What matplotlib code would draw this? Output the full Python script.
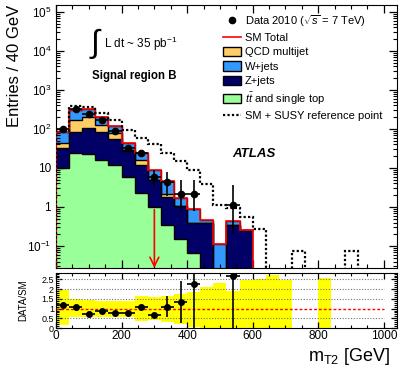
import numpy as np
import matplotlib
matplotlib.use("Agg")
import matplotlib.pyplot as plt
from matplotlib.lines import Line2D
from matplotlib.patches import Patch
from matplotlib.ticker import FixedLocator, FixedFormatter, MultipleLocator, LogLocator, NullFormatter

plt.rcParams['font.family'] = ['Liberation Sans', 'DejaVu Sans']
plt.rcParams['mathtext.fontset'] = 'custom'
plt.rcParams['mathtext.rm'] = 'Liberation Sans'
plt.rcParams['mathtext.it'] = 'Liberation Sans:italic'
plt.rcParams['mathtext.bf'] = 'Liberation Sans:bold'

# binning: 40 GeV bins
edges = np.arange(0, 1041, 40)
n_sm = 15  # bins with SM prediction (0-600 GeV)

# background components (stacked bottom -> top), bins 0..14
ttbar = [9.8, 23.8, 22.4, 16.0, 11.9, 6.0, 2.25, 1.02, 0.345, 0.155, 0.068, 0, 0, 0, 0]
zjets = [22.2, 61.2, 81.6, 66.0, 42.1, 21.0, 9.65, 3.98, 1.455, 0.895, 0.312, 0.38, 0, 0.345, 0.257]
qcd = [11, 85, 102, 44, 24, 2, 4.1, 0, 0.3, 0, 0, 0, 0, 0, 0]
wjets = [42, 137, 119, 74, 41, 15, 7.8, 3.9, 2.6, 0.7, 0.52, 0.08, 0.11, 0.105, 0]

# SM + SUSY reference point, all 26 bins
susy = [88, 380, 375, 250, 170, 92, 60, 40, 24.5, 15, 9, 3.8, 1.12, 0.92, 0.56, 0.28,
        0, 0, 0.076, 0, 0, 0, 0.076, 0, 0, 0]

# data, bins 0..13
data = [100, 325, 238, 170, 88, 33, 24, 5.8, 4.3, 2.2, 2.2, 0, 0, 1.1]
data_lo = [10, 18, 15, 13, 9.4, 5.7, 4.9, 2.5, 2.4, 1.4, 1.4, 0, 0, 0.9]
data_hi = [10, 18, 15, 13, 9.4, 5.7, 4.9, 3.1, 3.4, 2.7, 2.7, 0, 0, 2.6]

# ratio panel
ratio = [1.2, 1.08, 0.72, 0.86, 0.76, 0.77, 1.1, 0.65, 1.1, 1.32, 2.27, np.nan, np.nan, 2.65]
ratio_lo = [0.1, 0.07, 0.05, 0.07, 0.08, 0.1, 0.1, 0.1, 0.52, 1.07, 2.27, np.nan, np.nan, 2.65]
ratio_hi = [0.1, 0.07, 0.05, 0.07, 0.08, 0.1, 0.1, 0.1, 0.53, 1.1, 2.5, np.nan, np.nan, 2.0]
band_lo = [0.15, 0.58, 0.55, 0.55, 0.55, 0.55, 0.35, 0.4, 0.3, 0.2, 0.05, 0, 0, 0, 0,
           0, 0, 0, np.nan, np.nan, 0]
band_hi = [1.96, 1.5, 1.42, 1.4, 1.4, 1.4, 1.63, 1.6, 1.65, 1.73, 1.85, 2.1, 2.3, 1.9, 2.49,
           2.5, 2.73, 2.49, np.nan, np.nan, 2.55]

arrow_x, arrow_top = 300, 0.85

ytick_vals = [1e-1, 1, 10, 1e2, 1e3, 1e4, 1e5]
ytick_labels = ['$10^{-1}$', '1', '10', '$10^{2}$', '$10^{3}$', '$10^{4}$', '$10^{5}$']

c_green = '#99ff99'
c_navy = '#000066'
c_blue = '#3399ff'
c_orange = '#ffcc66'

floor = 1e-4
ymin, ymax = 0.0273, 1.5e5

fig = plt.figure(figsize=(4.03, 3.73), dpi=100)
ax = fig.add_axes([0.139, 0.2815, 0.846, 0.705])
axr = fig.add_axes([0.139, 0.1206, 0.846, 0.1475])

# stacked histogram
sm_edges = edges[:n_sm + 1]
layers = [(ttbar, c_green), (zjets, c_navy), (qcd, c_orange), (wjets, c_blue)]
bottom = np.zeros(n_sm)
for vals, col in layers:
    top = bottom + np.array(vals)
    ax.stairs(np.maximum(top, floor), sm_edges, baseline=np.maximum(bottom, floor),
              fill=True, color=col, lw=0, zorder=1)
    ax.stairs(np.maximum(top, floor), sm_edges, baseline=None, color='black', lw=1.0, zorder=2)
    bottom = top
ax.stairs(np.maximum(bottom, floor), sm_edges, baseline=floor, color='red', lw=1.2, zorder=3)

# SM + SUSY
ax.stairs(np.maximum(susy, floor), edges, baseline=floor, color='black', lw=1.6,
          linestyle=(0, (1, 1)), zorder=3)

# data
centers = 0.5 * (edges[:-1] + edges[1:])
d = np.array(data, dtype=float)
m = d > 0
xc = centers[:len(d)][m]
ax.errorbar(xc, d[m], xerr=20, yerr=[np.array(data_lo)[m], np.array(data_hi)[m]],
            fmt='o', color='black', ms=4.5, elinewidth=1.2, capsize=0, zorder=5)

# arrow
ax.annotate('', xy=(arrow_x, 0), xycoords=('data', 'axes fraction'),
            xytext=(arrow_x, arrow_top), textcoords='data',
            arrowprops=dict(arrowstyle='->', color='red', lw=1.2, mutation_scale=16,
                            shrinkA=0, shrinkB=0), zorder=4)

ax.set_yscale('log')
ax.set_xlim(0, 1040)
ax.set_ylim(ymin, ymax)
ax.yaxis.set_major_locator(FixedLocator(ytick_vals))
ax.yaxis.set_major_formatter(FixedFormatter(ytick_labels))
ax.yaxis.set_minor_locator(LogLocator(base=10, subs=np.arange(2, 10), numticks=20))
ax.yaxis.set_minor_formatter(NullFormatter())
ax.xaxis.set_major_locator(MultipleLocator(200))
ax.xaxis.set_minor_locator(MultipleLocator(50))
ax.set_xticklabels([])
ax.tick_params(which='both', direction='in', top=True, right=True, labelsize=8.5)
ax.tick_params(which='major', length=6, width=0.9)
ax.tick_params(which='minor', length=3, width=0.8)

# text
ax.text(0.117, 0.855, r'$\int$', transform=ax.transAxes, fontsize=23, ha='center', va='center')
ax.text(0.141, 0.852, r'L dt ~ 35 pb$^{-1}$', transform=ax.transAxes, fontsize=8.5,
        ha='left', va='center')
ax.text(0.106, 0.73, 'Signal region B', transform=ax.transAxes, fontsize=8.3,
        fontweight='bold', ha='left', va='center')
ax.text(0.516, 0.433, 'ATLAS', transform=ax.transAxes, fontsize=9.5,
        fontweight='bold', fontstyle='italic', ha='left', va='center')

handles = [
    Line2D([], [], marker='o', color='black', ls='none', ms=4.5),
    Line2D([], [], color='red', lw=1.2),
    Patch(facecolor=c_orange, edgecolor='black', lw=1.0),
    Patch(facecolor=c_blue, edgecolor='black', lw=1.0),
    Patch(facecolor=c_navy, edgecolor='black', lw=1.0),
    Patch(facecolor=c_green, edgecolor='black', lw=1.0),
    Line2D([], [], color='black', lw=1.6, ls=(0, (1, 1))),
]
labels = [r'Data 2010 ($\sqrt{s}$ = 7 TeV)', 'SM Total', 'QCD multijet', 'W+jets', 'Z+jets',
          r'$t\bar{t}$ and single top', 'SM + SUSY reference point']
ax.legend(handles, labels, loc='upper left', bbox_to_anchor=(0.49, 0.97), frameon=False,
          fontsize=8, labelspacing=0.36, handlelength=1.6, handleheight=0.9,
          handletextpad=0.35, borderpad=0, borderaxespad=0)

fig.text(0.037, 0.987, 'Entries / 40 GeV', rotation=90, ha='center', va='top', fontsize=12)

# ratio panel
rc = centers[:len(band_hi)]
bh = np.array(band_hi)
bl = np.array(band_lo)
axr.bar(rc, bh - bl, bottom=bl, width=40, color='#ffff00', lw=0, zorder=1)
for g in [0.5, 1.5, 2.0, 2.5]:
    axr.plot([0, 1000], [g, g], color='0.45', ls=(0, (1, 1.5)), lw=0.8, zorder=2)
axr.plot([0, 1000], [1, 1], color='red', ls=(0, (2, 1.5)), lw=1.0, zorder=3)
r = np.array(ratio)
mr = ~np.isnan(r)
axr.errorbar(centers[:len(r)][mr], r[mr], xerr=20,
             yerr=[np.array(ratio_lo)[mr], np.array(ratio_hi)[mr]],
             fmt='o', color='black', ms=4, elinewidth=1.2, capsize=0, zorder=5)
axr.set_xlim(0, 1040)
axr.set_ylim(0, 2.83)
axr.set_yticks([0, 0.5, 1, 1.5, 2, 2.5])
axr.set_yticklabels(['0', '0.5', '1', '1.5', '2', '2.5'])
axr.yaxis.set_minor_locator(MultipleLocator(0.1))
axr.xaxis.set_major_locator(MultipleLocator(200))
axr.xaxis.set_minor_locator(MultipleLocator(50))
axr.tick_params(which='both', direction='in', top=True, right=True)
axr.tick_params(axis='x', labelsize=8.5, pad=1.5)
axr.tick_params(axis='y', labelsize=6.5, pad=1.5)
axr.tick_params(which='major', length=4, width=0.9)
axr.tick_params(which='minor', length=2, width=0.8)
fig.text(0.057, 0.195, 'DATA/SM', rotation=90, ha='center', va='center', fontsize=7)
fig.text(0.968, 0.015, r'm$_{\mathregular{T2}}$ [GeV]', ha='right', va='bottom', fontsize=13)

fig.savefig('out.png', dpi=100)
